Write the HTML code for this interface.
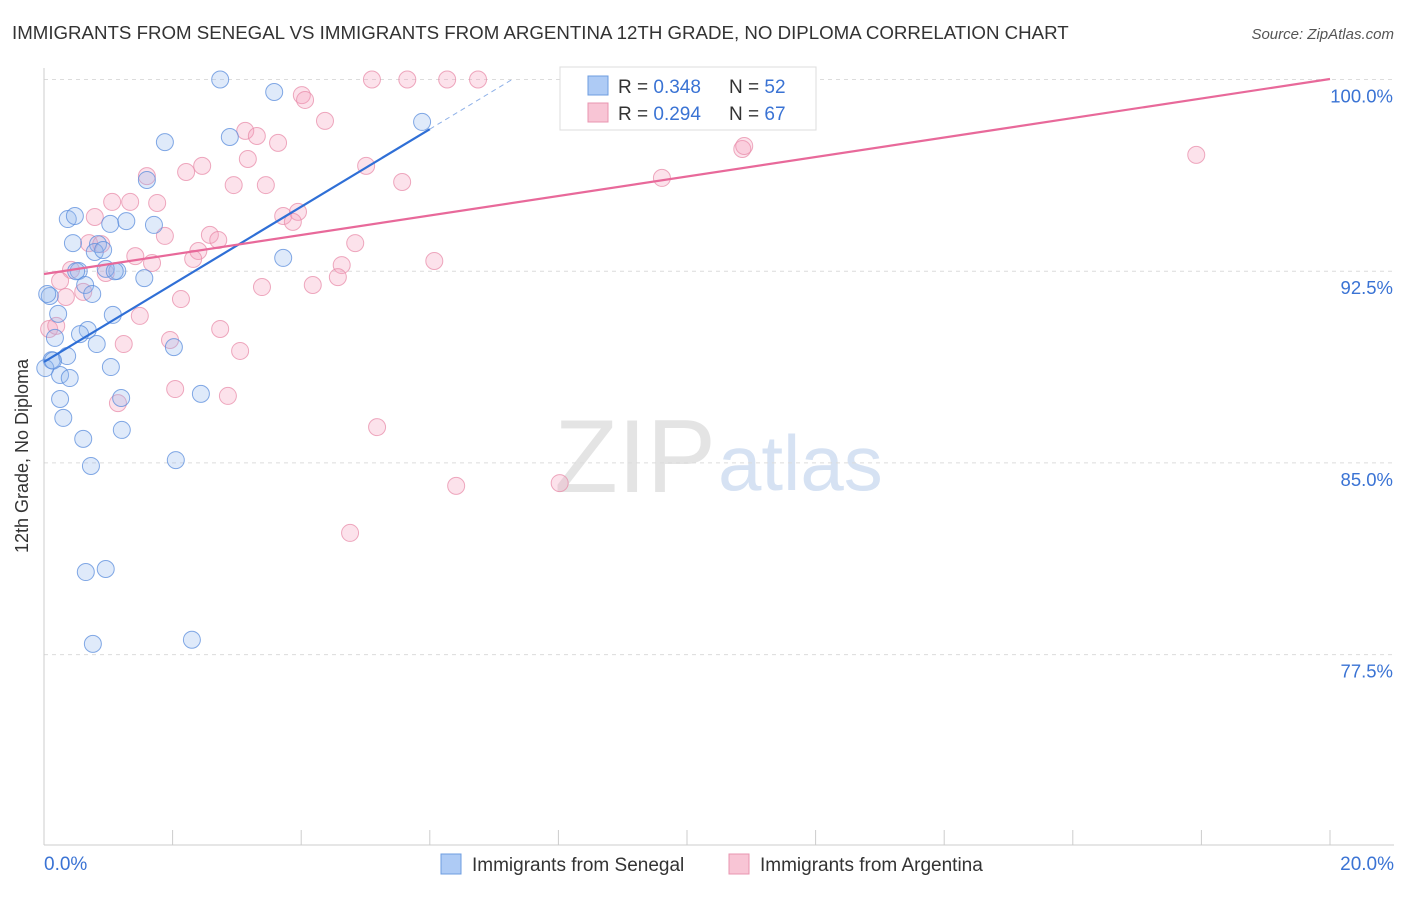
<!DOCTYPE html>
<html><head><meta charset="utf-8"><style>
body{margin:0;background:#fff;font-family:"Liberation Sans",sans-serif;}
svg text{font-family:"Liberation Sans",sans-serif;}
</style></head><body>
<svg id="chart" width="1406" height="892">
<text x="12" y="39" font-size="18.7" fill="#333">IMMIGRANTS FROM SENEGAL VS IMMIGRANTS FROM ARGENTINA 12TH GRADE, NO DIPLOMA CORRELATION CHART</text>
<text x="1394" y="39" font-size="15" fill="#555" text-anchor="end" font-style="italic">Source: ZipAtlas.com</text>
<text x="28" y="456" font-size="18" fill="#333" text-anchor="middle" transform="rotate(-90 28 456)">12th Grade, No Diploma</text>
<text x="716" y="492" font-size="104" fill="#e4e4e4" text-anchor="end" font-family="Liberation Serif">ZIP</text>
<text x="718" y="490" font-size="78" fill="#d6e2f3">atlas</text>
<g id="grid"></g><g id="axes"></g><g id="pts"></g><g id="lines"></g>
<g>
<rect x="560" y="67" width="256" height="63" fill="#fff" stroke="#ddd"/>
<rect x="588" y="76" width="20" height="19" fill="#aecbf5" stroke="#6d9de0"/>
<rect x="588" y="103" width="20" height="19" fill="#f8c5d5" stroke="#e995b0"/>
<text x="618" y="93" font-size="19" fill="#333">R = <tspan fill="#3a73d4">0.348</tspan><tspan x="729">N = </tspan><tspan fill="#3a73d4">52</tspan></text>
<text x="618" y="120" font-size="19" fill="#333">R = <tspan fill="#3a73d4">0.294</tspan><tspan x="729">N = </tspan><tspan fill="#3a73d4">67</tspan></text>
</g>
<g>
<rect x="441" y="854" width="20" height="20" fill="#aecbf5" stroke="#6d9de0"/>
<text x="472" y="871" font-size="19" fill="#333">Immigrants from Senegal</text>
<rect x="729" y="854" width="20" height="20" fill="#f8c5d5" stroke="#e995b0"/>
<text x="760" y="871" font-size="19" fill="#333">Immigrants from Argentina</text>
</g>
</svg>
<script>
const yTicks=[100,92.5,85,77.5];
const yTickLabels=["100.0%","92.5%","85.0%","77.5%"];
const xTickLabels=["0.0%","20.0%"];
const senegalX=[2.74,3.58,5.88,1.88,2.89,1.60,0.37,0.48,1.03,1.28,1.71,0.45,0.84,0.79,0.92,3.72,0.54,1.14,0.96,1.56,0.64,0.09,0.75,1.07,0.22,0.68,0.56,0.17,0.82,2.02,0.12,0.36,0.02,0.25,0.40,1.04,0.25,1.20,2.44,0.30,1.21,0.61,2.05,0.73,0.65,0.96,0.76,2.30,0.05,0.14,0.50,1.10];
const senegalY=[100.0,99.51,98.34,97.55,97.75,96.07,94.54,94.66,94.35,94.46,94.31,93.60,93.56,93.25,93.33,93.02,92.51,92.51,92.59,92.23,91.96,91.53,91.61,90.79,90.83,90.20,90.04,89.89,89.65,89.53,89.02,89.18,88.71,88.44,88.32,88.75,87.50,87.54,87.70,86.76,86.29,85.94,85.11,84.88,80.73,80.85,77.92,78.08,91.61,89.0,92.5,92.5];
const argX=[5.10,5.65,6.27,6.75,8.21,8.99,4.01,4.06,4.37,3.13,3.31,3.64,10.86,10.89,17.92,3.17,1.60,2.21,2.46,5.01,2.95,3.45,5.57,9.61,1.06,1.34,1.76,0.79,3.72,3.95,3.87,1.88,2.58,2.71,4.84,0.70,0.89,2.40,1.42,2.32,1.68,4.63,6.07,0.42,0.96,0.25,4.57,3.39,4.18,0.61,0.34,2.13,1.49,2.74,0.08,0.19,1.96,1.24,3.05,2.04,1.15,2.86,5.18,6.41,8.02,4.76,8.18];
const argY=[100,100,100,100,100,100,99.39,99.20,98.38,97.99,97.79,97.52,97.28,97.40,97.05,96.89,96.22,96.38,96.62,96.62,95.87,95.87,95.99,96.15,95.21,95.21,95.17,94.62,94.66,94.82,94.43,93.88,93.92,93.72,93.60,93.60,93.56,93.29,93.09,92.98,92.82,92.74,92.90,92.55,92.43,92.12,92.27,91.88,91.96,91.69,91.49,91.41,90.75,90.24,90.24,90.36,89.81,89.65,89.38,87.89,87.34,87.62,86.40,84.10,84.21,82.26,100];
const senegalTrend=[88.95,1.518];
const argTrend=[92.39,0.3815];
const NS="http://www.w3.org/2000/svg";
const X=v=>44+v*64.3, Y=v=>79.5+(100-v)*25.56;
function mk(t,a,p){const e=document.createElementNS(NS,t);for(const k in a)e.setAttribute(k,a[k]);document.getElementById(p).appendChild(e);return e;}
yTicks.forEach((t,i)=>{
 const l=mk('line',{x1:44,x2:1394,y1:Y(t),y2:Y(t),stroke:'#dcdcdc','stroke-dasharray':'4,4'},'grid');
 
 
 const tx=mk('text',{x:1393,y:Y(t)+23,'font-size':18.5,fill:'#3a73d4','text-anchor':'end'},'grid');
 tx.textContent=yTickLabels[i];
 
 
});
mk('line',{x1:44,x2:44,y1:68,y2:845,stroke:'#ccc'},'axes');
mk('line',{x1:44,x2:1394,y1:845,y2:845,stroke:'#ccc'},'axes');
for(let i=0;i<=10;i++){const t=mk('line',{x1:X(i*2),x2:X(i*2),y1:830,y2:845,stroke:'#ccc'},'axes');
 
 }
const xl0=mk('text',{x:44,y:870,'font-size':19,fill:'#3a73d4'},'axes');xl0.textContent=xTickLabels[0];


const xl1=mk('text',{x:1394,y:870,'font-size':19,fill:'#3a73d4','text-anchor':'end'},'axes');xl1.textContent=xTickLabels[1];


argX.forEach((x,i)=>{const c=mk('circle',{cx:X(x),cy:Y(argY[i]),r:8.5,fill:'rgba(244,160,188,0.3)',stroke:'rgba(232,140,170,0.75)','stroke-width':1},'pts');
 
 });
senegalX.forEach((x,i)=>{const c=mk('circle',{cx:X(x),cy:Y(senegalY[i]),r:8.5,fill:'rgba(150,185,240,0.3)',stroke:'rgba(90,140,220,0.75)','stroke-width':1},'pts');
 
 });
const bt=v=>senegalTrend[0]+senegalTrend[1]*v, pt=v=>argTrend[0]+argTrend[1]*v;
const b1=mk('line',{x1:X(0),y1:Y(bt(0)),x2:X(6),y2:Y(bt(6)),stroke:'#2f6fd6','stroke-width':2.2},'lines');


const xe=(100-senegalTrend[0])/senegalTrend[1];
const b2=mk('line',{x1:X(6),y1:Y(bt(6)),x2:X(xe),y2:Y(100),stroke:'#8fb1e8','stroke-width':1,'stroke-dasharray':'5,4'},'lines');


const p1=mk('line',{x1:X(0),y1:Y(pt(0)),x2:X(20),y2:Y(pt(20)),stroke:'#e8699a','stroke-width':2.2},'lines');


</script>
</body></html>
